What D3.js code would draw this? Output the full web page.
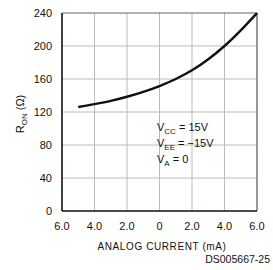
<!DOCTYPE html>
<html><head><meta charset="utf-8">
<script src="https://cdn.jsdelivr.net/npm/d3@7"></script>
<style>body{margin:0;background:#fff}svg{display:block}
text{font-family:"Liberation Sans Narrow","Liberation Sans",Arial,sans-serif;fill:#111}</style>
</head><body>
<script>
const currents = [-5,-4,-3,-2,-1,0,1,2,3,4,5,6];
const ron = [126,129.5,133.5,138.5,144.5,151.5,160,170.5,184,200,219,240];
const xTicks = [-6,-4,-2,0,2,4,6];
const xTickLabels = ["6.0","4.0","2.0","0","2.0","4.0","6.0"];
const yTicks = [0,40,80,120,160,200,240];
const W=273,H=270;
const svg=d3.select("body").append("svg").attr("width",W).attr("height",H);
const x=d3.scaleLinear().domain([-6,6]).range([62,257]);
const y=d3.scaleLinear().domain([0,240]).range([211,13]);
// grid
svg.append("g").selectAll("line").data(xTicks.slice(1,-1)).join("line")
 .attr("x1",d=>x(d)).attr("x2",d=>x(d)).attr("y1",y(240)).attr("y2",y(0))
 .attr("stroke","#bbb").attr("stroke-width",1);
svg.append("g").selectAll("line").data(yTicks.slice(1,-1)).join("line")
 .attr("y1",d=>y(d)).attr("y2",d=>y(d)).attr("x1",x(-6)).attr("x2",x(6))
 .attr("stroke","#bbb").attr("stroke-width",1);
// frame
svg.append("line").attr("x1",x(-6)).attr("x2",x(6)).attr("y1",y(240)).attr("y2",y(240)).attr("stroke","#666").attr("stroke-width",1.2);
svg.append("line").attr("x1",x(6)).attr("x2",x(6)).attr("y1",y(240)).attr("y2",y(0)).attr("stroke","#555").attr("stroke-width",1.2);
svg.append("line").attr("x1",x(-6)).attr("x2",x(-6)).attr("y1",y(240)).attr("y2",y(0)).attr("stroke","#111").attr("stroke-width",1.6);
svg.append("line").attr("x1",x(-6)).attr("x2",x(6)).attr("y1",y(0)).attr("y2",y(0)).attr("stroke","#111").attr("stroke-width",1.6);
// curve
svg.append("path").datum(currents.map((c,i)=>[c,ron[i]]))
 .attr("d",d3.line().x(d=>x(d[0])).y(d=>y(d[1])).curve(d3.curveMonotoneX))
 .attr("fill","none").attr("stroke","#111").attr("stroke-width",2.4);
// tick labels
svg.append("g").selectAll("text").data(yTicks).join("text")
 .attr("x",52).attr("y",d=>y(d)+4).attr("text-anchor","end").attr("font-size",11).text(d=>d);
svg.append("g").selectAll("text").data(xTicks).join("text")
 .attr("x",d=>x(d)).attr("y",230).attr("text-anchor","middle").attr("font-size",11).text((d,i)=>xTickLabels[i]);
// axis titles
svg.append("text").attr("x",162).attr("y",250).attr("text-anchor","middle").attr("font-size",10)
 .attr("letter-spacing","0.6").text("ANALOG CURRENT (mA)");
const yl=svg.append("text").attr("transform","translate(24,114) rotate(-90)").attr("text-anchor","middle").attr("font-size",11);
yl.append("tspan").text("R");
yl.append("tspan").attr("font-size",8).attr("dy",3).text("ON");
yl.append("tspan").attr("dy",-3).text(" (Ω)");
// annotations
const ann=[["V","CC"," = 15V"],["V","EE"," = −15V"],["V","A"," = 0"]];
ann.forEach((a,i)=>{
 const t=svg.append("text").attr("x",157).attr("y",131+i*16).attr("font-size",11);
 t.append("tspan").text(a[0]);
 t.append("tspan").attr("font-size",8).attr("dy",3).text(a[1]);
 t.append("tspan").attr("dy",-3).text(a[2]);
});
svg.append("text").attr("x",270).attr("y",263).attr("text-anchor","end").attr("font-size",10.5)
 .style("font-family","'Liberation Sans',Arial,sans-serif").text("DS005667-25");
</script>
</body></html>
